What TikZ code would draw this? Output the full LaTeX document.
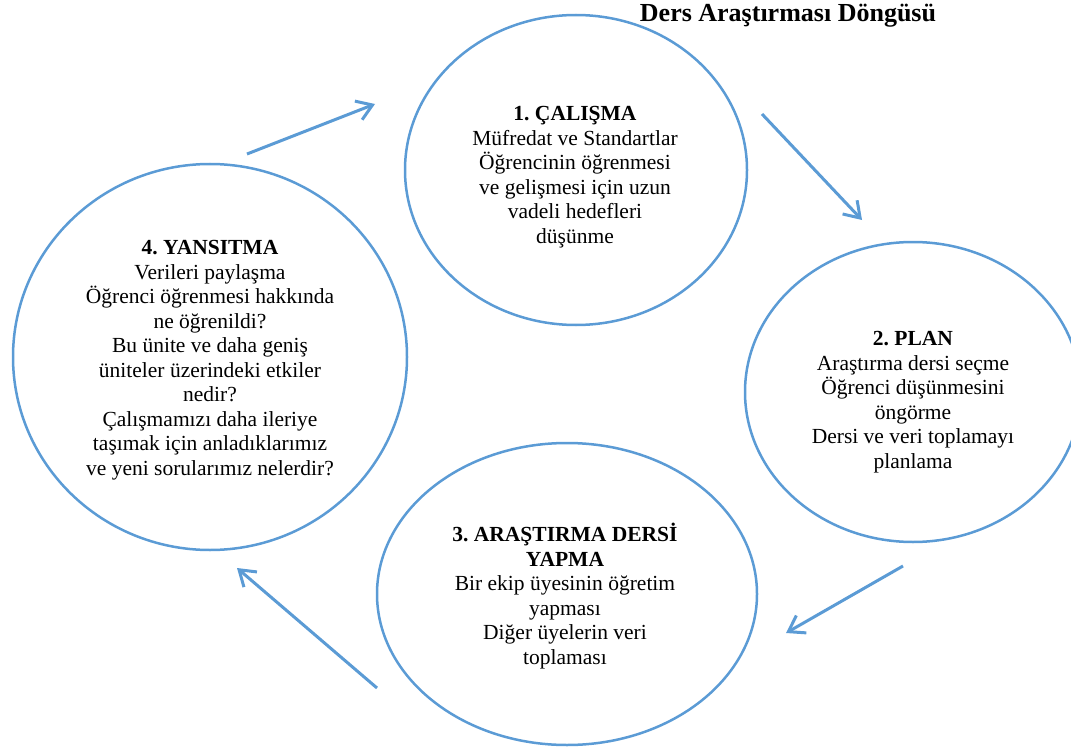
\documentclass[tikz,border=0pt]{standalone}
\usepackage{fontspec}
\setmainfont{Liberation Serif}
\frenchspacing
\usetikzlibrary{shapes.geometric,arrows.meta}
\definecolor{cycleblue}{RGB}{91,155,213}
\tikzset{
	stage/.style={ellipse, draw=cycleblue, line width=2.5pt, inner sep=0pt},
	stagetext/.style={align=center, font=\fontsize{21.5}{24.5}\selectfont},
	cyclearrow/.style={draw=cycleblue, line width=3pt, -{Straight Barb[length=15pt,width=20pt]}}
}

\begin{document}
\begin{tikzpicture}[x=1pt,y=-1pt]
		\useasboundingbox (0,0) rectangle (1071,749);
		\node[font=\bfseries\fontsize{26}{29}\selectfont, anchor=base] (title) at (788,22) {Ders Araştırması Döngüsü};
		
		\node[stage, minimum width=342pt, minimum height=310pt] (1) at (576,170) {};
		\node[stage, minimum width=336pt, minimum height=300pt] (2) at (913,392) {};
		\node[stage, minimum width=380pt, minimum height=302pt] (3) at (567,594) {};
		\node[stage, minimum width=394pt, minimum height=386pt] (4) at (210,357) {};
		
		\node[stagetext] (t1) at (575,177) {\textbf{1. ÇALIŞMA}\\Müfredat ve Standartlar\\Öğrencinin öğrenmesi\\ve gelişmesi için uzun\\vadeli hedefleri\\düşünme};
		\node[stagetext] (t2) at (913,402) {\textbf{2. PLAN}\\Araştırma dersi seçme\\Öğrenci düşünmesini\\öngörme\\Dersi ve veri toplamayı\\planlama};
		\node[stagetext] (t3) at (565,596) {\textbf{3. ARAŞTIRMA DERSİ}\\\textbf{YAPMA}\\Bir ekip üyesinin öğretim\\yapması\\Diğer üyelerin veri\\toplaması};
		\node[stagetext] (t4) at (210,360) {\textbf{4. YANSITMA}\\Verileri paylaşma\\Öğrenci öğrenmesi hakkında\\ne öğrenildi?\\Bu ünite ve daha geniş\\üniteler üzerindeki etkiler\\nedir?\\Çalışmamızı daha ileriye\\taşımak için anladıklarımız\\ve yeni sorularımız nelerdir?};
		
		\coordinate (a41) at (247,154);
		\coordinate (b41) at (375,104);
		\coordinate (a12) at (762,114);
		\coordinate (b12) at (862,220);
		\coordinate (a23) at (903,566);
		\coordinate (b23) at (786,633);
		\coordinate (a34) at (377,688);
		\coordinate (b34) at (237,568);
		
		\draw[cyclearrow] (a41) -- (b41);
		\draw[cyclearrow] (a12) -- (b12);
		\draw[cyclearrow] (a23) -- (b23);
		\draw[cyclearrow] (a34) -- (b34);
\end{tikzpicture}
\end{document}
